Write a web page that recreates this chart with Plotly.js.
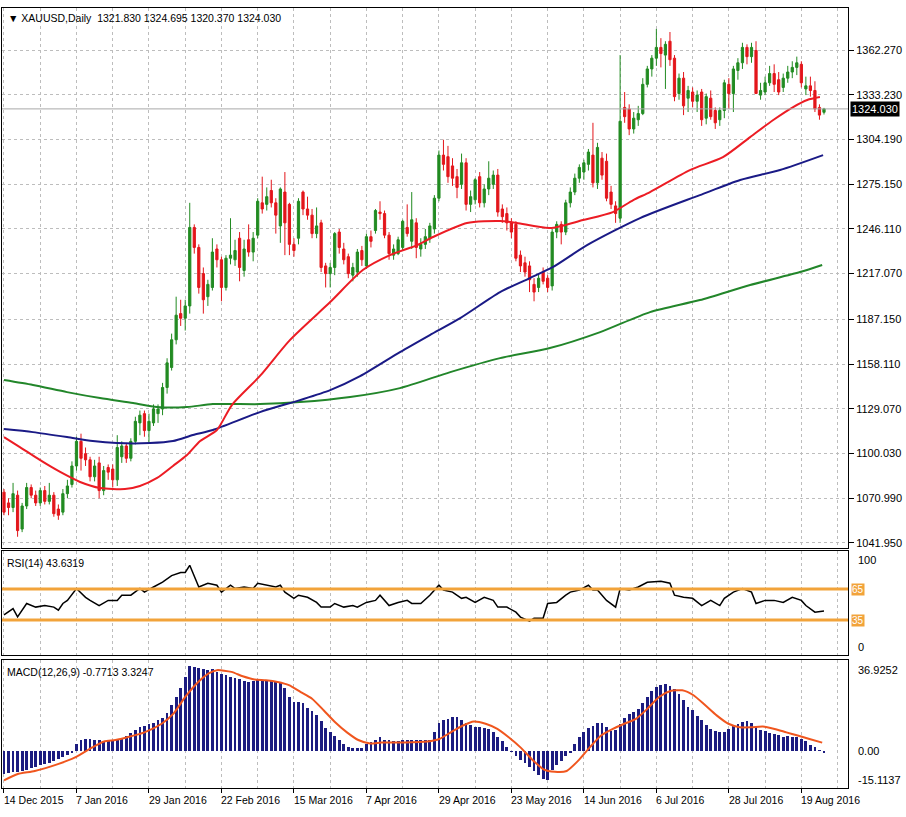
<!DOCTYPE html>
<html><head><meta charset="utf-8">
<script src="https://cdn.plot.ly/plotly-3.0.1.min.js"></script>
<style>html,body{margin:0;padding:0;background:#fff;} #chart{width:906px;height:817px;}</style>
</head><body><div id="chart"></div>
<script>
// ---------- DATA ----------
const symbolTitle = '\u25BC XAUUSD,Daily  1321.830 1324.695 1320.370 1324.030';
const rsiTitle = 'RSI(14) 43.6319';
const macdTitle = 'MACD(12,26,9) -0.7713 3.3247';
const dateLabels = ['14 Dec 2015','7 Jan 2016','29 Jan 2016','22 Feb 2016','15 Mar 2016','7 Apr 2016',
  '29 Apr 2016','23 May 2016','14 Jun 2016','6 Jul 2016','28 Jul 2016','19 Aug 2016'];
const barsPerLabel = 16;
const priceTicks = [1041.95,1070.99,1100.03,1129.07,1158.11,1187.15,1217.07,1246.11,1275.15,1304.19,1333.23,1362.27];
const lastPrice = 1324.03;
const rsiLevels = [65, 35];
const rsiAxisLabels = ['100','0'];
const macdAxisLabels = ['36.9252','0.00','-15.1137'];
const macdAxisValues = [36.9252, 0, -15.1137];

const open = [
1075,1068,1065,1073,1051,1066,1078,1073,1068,1076,
1069,1073,1064,1062,1074,1080,1092,1108,1100,1096,
1085,1094,1076,1091,1090,1083,1098,1105,1097,1108,
1120,1126,1115,1120,1126,1129,1143,1156,1174,1191,
1188,1196,1247,1234,1217,1202,1208,1233,1226,1208,
1227,1226,1240,1219,1239,1231,1242,1263,1262,1271,
1263,1248,1270,1262,1236,1240,1270,1259,1255,1243,
1250,1222,1217,1221,1244,1233,1228,1216,1218,1232,
1222,1241,1245,1257,1256,1242,1229,1230,1234,1247,
1238,1250,1233,1236,1240,1246,1266,1294,1293,1287,
1280,1275,1289,1262,1265,1280,1263,1272,1275,1281,
1259,1256,1250,1249,1229,1224,1222,1210,1208,1218,
1214,1209,1244,1249,1244,1263,1270,1279,1283,1288,
1294,1276,1292,1290,1270,1261,1253,1325,1324,1311,
1317,1321,1340,1350,1357,1364,1359,1368,1357,1334,
1344,1331,1335,1329,1335,1318,1331,1323,1317,1323,
1340,1334,1349,1354,1364,1358,1362,1333,1335,1341,
1347,1343,1338,1344,1348,1351,1353,1337,1339,1336,
1325,1321.83];
const high = [
1077,1071,1081,1076,1068,1081,1080,1076,1078,1079,
1081,1075,1067,1077,1083,1095,1111,1113,1104,1098,
1096,1098,1092,1093,1093,1112,1108,1107,1110,1124,
1128,1128,1126,1132,1132,1146,1162,1178,1202,1200,
1200,1263,1249,1236,1221,1213,1240,1236,1228,1229,
1253,1239,1244,1239,1249,1244,1266,1280,1273,1278,
1266,1273,1283,1263,1240,1266,1271,1267,1259,1260,
1252,1224,1224,1244,1246,1237,1230,1224,1233,1235,
1243,1245,1259,1264,1258,1244,1236,1241,1252,1262,
1270,1253,1240,1246,1250,1268,1297,1304,1300,1292,
1285,1295,1292,1271,1279,1283,1275,1290,1284,1285,
1262,1260,1253,1251,1232,1228,1225,1214,1217,1221,
1216,1246,1251,1251,1265,1273,1282,1288,1291,1298,
1315,1302,1296,1295,1274,1264,1359,1335,1327,1322,
1326,1344,1352,1359,1376,1370,1368,1374,1359,1347,
1348,1339,1338,1336,1337,1334,1336,1325,1325,1343,
1344,1352,1357,1367,1366,1367,1368,1341,1345,1352,
1353,1348,1347,1352,1355,1358,1355,1345,1345,1342,
1327,1324.695];
const low = [
1060,1060,1062,1046,1049,1064,1071,1066,1066,1067,
1067,1059,1057,1060,1071,1078,1089,1089,1092,1082,
1082,1071,1073,1083,1078,1079,1094,1094,1095,1106,
1112,1111,1107,1118,1120,1125,1139,1154,1171,1183,
1180,1191,1230,1204,1191,1196,1206,1221,1199,1206,
1223,1222,1212,1215,1228,1225,1240,1256,1258,1260,
1243,1237,1229,1229,1228,1236,1255,1252,1240,1240,
1218,1208,1208,1216,1230,1223,1214,1212,1215,1222,
1220,1234,1243,1252,1240,1226,1226,1229,1232,1241,
1233,1227,1228,1233,1237,1243,1264,1284,1276,1274,
1266,1272,1258,1257,1262,1260,1260,1268,1272,1254,
1250,1245,1240,1225,1218,1215,1205,1199,1205,1210,
1205,1206,1240,1236,1242,1260,1268,1276,1278,1284,
1273,1272,1278,1264,1259,1250,1250,1315,1307,1308,
1313,1320,1338,1345,1352,1351,1337,1352,1329,1330,
1320,1322,1325,1322,1313,1314,1317,1311,1313,1318,
1324,1322,1343,1350,1353,1354,1334,1330,1333,1339,
1335,1333,1335,1341,1344,1346,1338,1333,1332,1322,
1317,1320.37];
const close = [
1062,1065,1074,1050,1066,1078,1073,1068,1076,1069,
1073,1061,1060,1074,1079,1092,1108,1097,1096,1085,
1092,1076,1089,1088,1083,1104,1105,1097,1108,1121,
1125,1115,1121,1129,1129,1143,1159,1174,1190,1188,
1196,1247,1234,1208,1200,1210,1231,1226,1208,1227,
1229,1232,1221,1233,1231,1240,1264,1259,1267,1263,
1255,1272,1250,1236,1232,1264,1259,1255,1243,1248,
1221,1217,1221,1243,1234,1226,1217,1221,1231,1226,
1241,1238,1258,1256,1242,1230,1233,1239,1251,1243,
1252,1234,1236,1241,1248,1266,1294,1288,1280,1279,
1273,1289,1262,1267,1278,1263,1272,1279,1281,1257,
1254,1250,1244,1227,1222,1218,1213,1205,1214,1212,
1208,1244,1249,1244,1263,1270,1279,1286,1289,1296,
1276,1299,1281,1266,1262,1256,1316,1319,1311,1318,
1321,1340,1350,1357,1364,1360,1366,1356,1332,1344,
1326,1336,1329,1333,1317,1332,1319,1315,1323,1341,
1334,1350,1354,1364,1358,1364,1334,1336,1341,1347,
1340,1335,1344,1348,1351,1354,1341,1339,1336,1324,
1320,1324.03];

// moving averages (bar position, price)
const maRedIdx = [0,3.5,7.9,12.4,16.8,21.2,26.7,30,33.8,37.3,40.4,43.3,47,50.3,56.5,63.1,72,79.2,85.2,91.2,94.7,102.2,109.5,113.2,120.5,127.8,134.4,138.9,142.6,151.4,158.7,164.7,169.8,174.2,177.3,180.1];
const maRedVal = [1110.8,1104.3,1095.9,1088.1,1081.6,1077.7,1077.0,1079.0,1084.2,1092.0,1099.1,1108.2,1115.4,1131.6,1150.5,1173.8,1198.5,1219.3,1229.0,1235.5,1240.8,1249.9,1251.2,1249.9,1246.6,1251.8,1257.0,1264.8,1270.0,1284.3,1292.7,1305.7,1316.8,1325.2,1329.8,1331.7];
const maNavyIdx = [0,6.4,13.9,19.6,24.9,32.2,37.3,41.7,46.1,56.5,65.3,72,78.6,87.4,94,100.7,109.5,116.1,121.2,128.7,140.4,153.6,162.5,171.3,180.8];
const maNavyVal = [1116.0,1114.0,1110.8,1108.2,1106.9,1106.9,1108.2,1112.1,1115.4,1127.0,1134.8,1141.3,1150.4,1166.0,1177.1,1188.1,1205.0,1214.1,1221.3,1235.5,1253.1,1268.0,1277.8,1284.3,1294.0];
const maGreenIdx = [0,6.4,13.9,21.2,28.5,33.8,40.4,46.1,56.5,65.3,76.4,87.4,98.5,109.5,120.5,131.6,142.6,153.6,164.7,175.7,180.6];
const maGreenVal = [1147.8,1144.6,1140.0,1136.1,1132.9,1130.3,1130.3,1132.2,1132.2,1133.5,1136.8,1142.6,1153.0,1162.1,1168.6,1179.0,1192.0,1199.8,1209.6,1218.0,1222.6];

// RSI(14)
const rsiIdx = [0,2,3,5,7,9,11,12,13,14,16,18,19,21,23,25,26,28,30,31,33,35,37,39,40,41,43,45,47,48,50,51,53,55,56,58,60,61,62,64,65,67,69,70,72,73,75,77,78,80,82,83,84,85,87,89,90,92,94,96,97,99,101,102,104,106,108,109,111,113,114,116,117,119,120,122,124,125,127,129,130,131,133,135,136,138,140,142,145,147,148,150,152,154,156,158,159,161,163,165,166,168,170,172,174,176,177,179,181];
const rsiVal = [40,46,38,51,47.5,49,47.5,44.5,51,54,65.5,57,54,49,54,54,59,59,65.5,62,67,71.6,78,81,81,88,67,70.6,68.7,62,68.7,65.5,67,65.5,70.6,68.7,67,68.7,62,56,59,57,52,47.5,47.5,51,47.5,49,47.5,52,54,59,54,49,52,54,51,51,59,68.7,64,62,56,57,52,57,54,47.5,47.5,42.6,37.8,33.9,36.8,36.8,51,52,59,62,64,68.7,64,64,54,47.5,65.5,64,67,71.6,72.6,70.6,59,57,56,49,54,49,56,62,65.5,62,51,54,54,52,57,54,49,42.6,43.6319];

// MACD(12,26,9): main (histogram, one per bar) and signal line
const macdHist = [
-9.5,-9.2,-8.8,-8.7,-8.2,-7.6,-7.0,-6.4,-5.8,-5.2,
-4.8,-4.2,-3.4,-2.6,-1.8,-0.8,2.7,4.6,4.9,4.8,
4.5,4.2,3.9,3.8,4.1,4.7,5.3,6.2,7.2,8.4,
9.5,10.2,10.8,11.5,12.5,13.2,15.5,18.5,22,25.5,
30,34.4,34.2,33.8,33.2,32.8,33.4,32.0,31.2,30.8,
30.1,29.6,29.0,28.5,28.0,28.4,28.6,28.6,28.6,28.6,
27.8,27.5,25.5,22,19.9,19.8,19.3,17.6,16,14.5,
12,9.2,7.5,6,4.4,2.7,1.6,1.2,1.0,1.0,
2.6,3.5,4.2,5.5,4.6,4.2,3.9,3.9,4.2,4.5,
4.5,4.3,4.3,4.3,4.4,7.5,11.2,12.6,13,13.6,
13.8,12.5,11.5,10.5,9.8,9.6,9.3,9.0,7.6,5.8,
3.8,1.5,-0.3,-2,-3.6,-5,-6.6,-8.3,-10,-11.3,
-12,-7.8,-5.8,-4.2,-2.2,-0.8,2.7,5.8,7.8,9.3,
10.2,11.5,11.2,9.5,8.0,8.6,11,13.5,14.8,15.6,
17,19.5,22,24.5,26,26.6,27.1,26.5,25,23.3,
20.5,18,16.8,14.3,12.4,10.6,9,8,7.5,7.5,
9,10.3,10.9,11.6,12.2,11.5,9.8,8.6,8.1,7.4,
6.8,6.4,5.8,5.9,5.6,5.5,5.0,4.0,2.5,1.4,
0.4,-0.7713];
const sigIdx = [0,2.9,6.8,11.9,15.7,19.5,22.1,24.6,27.2,31,34.8,37.4,40,42.5,45.1,47,50.2,52.7,55.3,57.8,60.4,62.9,65.5,68,70.6,73.1,75.7,78.2,80.8,83.3,88.4,93.5,96.1,98.6,101.2,103.7,106.3,108.9,111.4,114,116.5,119.1,121.6,124.2,126.7,129.3,131.8,134.4,136.9,139.5,142,144.6,147.1,149.7,152.2,154.8,157.3,159.9,162.4,165,167.5,170.1,172.7,175.2,177.8,180.6];
const sigVal = [-12.0,-9.5,-8.2,-5.4,-2.7,1.4,3.8,4.4,5.5,7.5,11,15.1,21.9,27.3,31.4,32.8,32.1,30.3,29,28.7,28,26.7,23.9,21.2,16.4,11.6,7.5,4.4,3,3.4,3.4,3.8,4.8,7.5,10.2,11.9,11,8.9,5.5,1.4,-3.4,-7.5,-8.5,-8.2,-4.1,1.4,6.2,8.9,11,13,17.1,21.9,24.3,24.6,22.6,18.5,14.4,11,9.6,9.6,9.9,8.9,7.5,6.2,4.8,3.3247];

// ---------- CHART ----------
const n = Math.min(open.length, high.length, low.length, close.length);
const barIdx = []; for (let i = 0; i < n; i++) barIdx.push(i);
const histIdx = macdHist.map((_, i) => i);
const labelIdx = dateLabels.map((_, i) => i * barsPerLabel);
const gridIdx = []; for (let i = 0; i <= 184; i += barsPerLabel / 2) gridIdx.push(i);
const minorIdx = gridIdx.filter(v => v % barsPerLabel !== 0);

const FONT = 'Liberation Sans, Arial, sans-serif';
const GRID = '#bdbdbd';
const GREEN = '#228b22', RED = '#e3161b';
const XR = [-0.44, 186.3];
const RSI_RANGE = [1.1, 101.8];

const traces = [
  {type:'candlestick', x:barIdx, open:open.slice(0,n), high:high.slice(0,n), low:low.slice(0,n), close:close.slice(0,n),
   xaxis:'x', yaxis:'y', whiskerwidth:0, hoverinfo:'skip', showlegend:false,
   increasing:{line:{color:GREEN, width:1}, fillcolor:GREEN},
   decreasing:{line:{color:RED, width:1}, fillcolor:RED}},
  {type:'scatter', mode:'lines', x:maGreenIdx, y:maGreenVal, xaxis:'x', yaxis:'y', line:{color:'#22862a', width:2, shape:'spline', smoothing:0.7}, hoverinfo:'skip', showlegend:false},
  {type:'scatter', mode:'lines', x:maNavyIdx, y:maNavyVal, xaxis:'x', yaxis:'y', line:{color:'#1a1a86', width:2, shape:'spline', smoothing:0.7}, hoverinfo:'skip', showlegend:false},
  {type:'scatter', mode:'lines', x:maRedIdx, y:maRedVal, xaxis:'x', yaxis:'y', line:{color:'#ec1c24', width:2, shape:'spline', smoothing:0.7}, hoverinfo:'skip', showlegend:false},
  {type:'scatter', mode:'lines', x:rsiIdx, y:rsiVal, xaxis:'x2', yaxis:'y2', line:{color:'#000', width:1.5}, hoverinfo:'skip', showlegend:false},
  {type:'bar', x:histIdx, y:macdHist, xaxis:'x3', yaxis:'y3', width:0.62, marker:{color:'#1c1c80', line:{width:0}}, hoverinfo:'skip', showlegend:false},
  {type:'scatter', mode:'lines', x:sigIdx, y:sigVal, xaxis:'x3', yaxis:'y3', line:{color:'#f0561e', width:2, shape:'spline', smoothing:0.6}, hoverinfo:'skip', showlegend:false}
];

function xax(extra) {
  return Object.assign({type:'linear', range:XR, showline:true, mirror:true, linecolor:'#000', linewidth:1,
    zeroline:false, showticklabels:false, tickmode:'array', tickvals:gridIdx, ticks:'',
    showgrid:true, gridcolor:GRID, griddash:'3px,3px', gridwidth:1, fixedrange:true}, extra);
}
function yax(extra) {
  return Object.assign({side:'right', showline:true, mirror:true, linecolor:'#000', linewidth:1,
    zeroline:false, fixedrange:true, showgrid:false, tickfont:{family:FONT, size:11, color:'#000'}}, extra);
}

const annotations = [
  {xref:'paper', yref:'paper', x:0, y:1, xanchor:'left', yanchor:'top', xshift:4, yshift:-2, showarrow:false,
   text:symbolTitle, font:{family:FONT, size:10.5, color:'#000'}},
  {xref:'paper', yref:'y2 domain', x:0, y:1, xanchor:'left', yanchor:'top', xshift:3, yshift:-4, showarrow:false,
   text:rsiTitle, font:{family:FONT, size:10.5, color:'#000'}},
  {xref:'paper', yref:'y3 domain', x:0, y:1, xanchor:'left', yanchor:'top', xshift:3, yshift:-4, showarrow:false,
   text:macdTitle, font:{family:FONT, size:10.5, color:'#000'}},
  {xref:'paper', yref:'y', x:1, y:lastPrice, xanchor:'left', yanchor:'middle', xshift:2, showarrow:false,
   text:lastPrice.toFixed(3), bgcolor:'#000', borderpad:1, font:{family:FONT, size:11, color:'#fff'}},
  {xref:'paper', yref:'y2 domain', x:1, y:1, xanchor:'left', yanchor:'top', xshift:8, yshift:-1, showarrow:false,
   text:rsiAxisLabels[0], font:{family:FONT, size:11, color:'#000'}},
  {xref:'paper', yref:'y2 domain', x:1, y:0, xanchor:'left', yanchor:'bottom', xshift:8, yshift:0, showarrow:false,
   text:rsiAxisLabels[1], font:{family:FONT, size:11, color:'#000'}}
];
rsiLevels.forEach(v => annotations.push({xref:'paper', yref:'y2', x:1, y:v, xanchor:'left', yanchor:'middle', xshift:3,
  showarrow:false, text:String(v), bgcolor:'#f2a33a', borderpad:0, font:{family:FONT, size:10, color:'#fff'}}));
macdAxisValues.forEach((v, i) => annotations.push({xref:'paper', yref:'y3', x:1, y:v, xanchor:'left',
  yanchor: i === 0 ? 'top' : (i === 2 ? 'bottom' : 'middle'), xshift:8, yshift: i === 0 ? -2 : 0, showarrow:false,
  text:macdAxisLabels[i], font:{family:FONT, size:11, color:'#000'}}));
dateLabels.forEach((t, i) => annotations.push({xref:'x3', yref:'paper', x:labelIdx[i], y:0, xanchor:'left', yanchor:'top',
  xshift:-2, yshift:-4, showarrow:false, text:t, font:{family:FONT, size:10.5, color:'#000'}}));

const shapes = [
  {type:'line', xref:'x domain', yref:'y', x0:0, x1:1, y0:lastPrice, y1:lastPrice, line:{color:'#a8a8a8', width:1}},
  ...rsiLevels.map(v => ({type:'line', xref:'x2 domain', yref:'y2', x0:0, x1:1, y0:v, y1:v, line:{color:'#f2a33a', width:3}}))
];

const layout = {
  width:906, height:817, margin:{l:2, r:58, t:8, b:29},
  paper_bgcolor:'#fff', plot_bgcolor:'#fff', showlegend:false, bargap:0,
  font:{family:FONT, size:11, color:'#000'},
  xaxis: xax({anchor:'y', rangeslider:{visible:false}}),
  xaxis2: xax({anchor:'y2', matches:'x'}),
  xaxis3: xax({anchor:'y3', matches:'x', tickvals:labelIdx, ticks:'outside', ticklen:4, tickcolor:'#000',
               minor:{tickmode:'array', tickvals:minorIdx, showgrid:true, gridcolor:GRID, griddash:'3px,3px', ticks:''}}),
  yaxis: yax({domain:[0.3077, 1], range:[1038.7, 1389.6], tickmode:'array', tickvals:priceTicks,
              ticktext:priceTicks.map(v => v.toFixed(3)), ticks:'outside', ticklen:5, tickcolor:'#000',
              showgrid:true, gridcolor:GRID, griddash:'3px,3px'}),
  yaxis2: yax({domain:[0.1705, 0.3038], range:RSI_RANGE, showticklabels:false, ticks:''}),
  yaxis3: yax({domain:[0, 0.1641], range:[-15.1137, 36.9252], showticklabels:false, ticks:''}),
  annotations: annotations,
  shapes: shapes
};

Plotly.newPlot('chart', traces, layout, {staticPlot:true, displayModeBar:false});
</script>
</body></html>
